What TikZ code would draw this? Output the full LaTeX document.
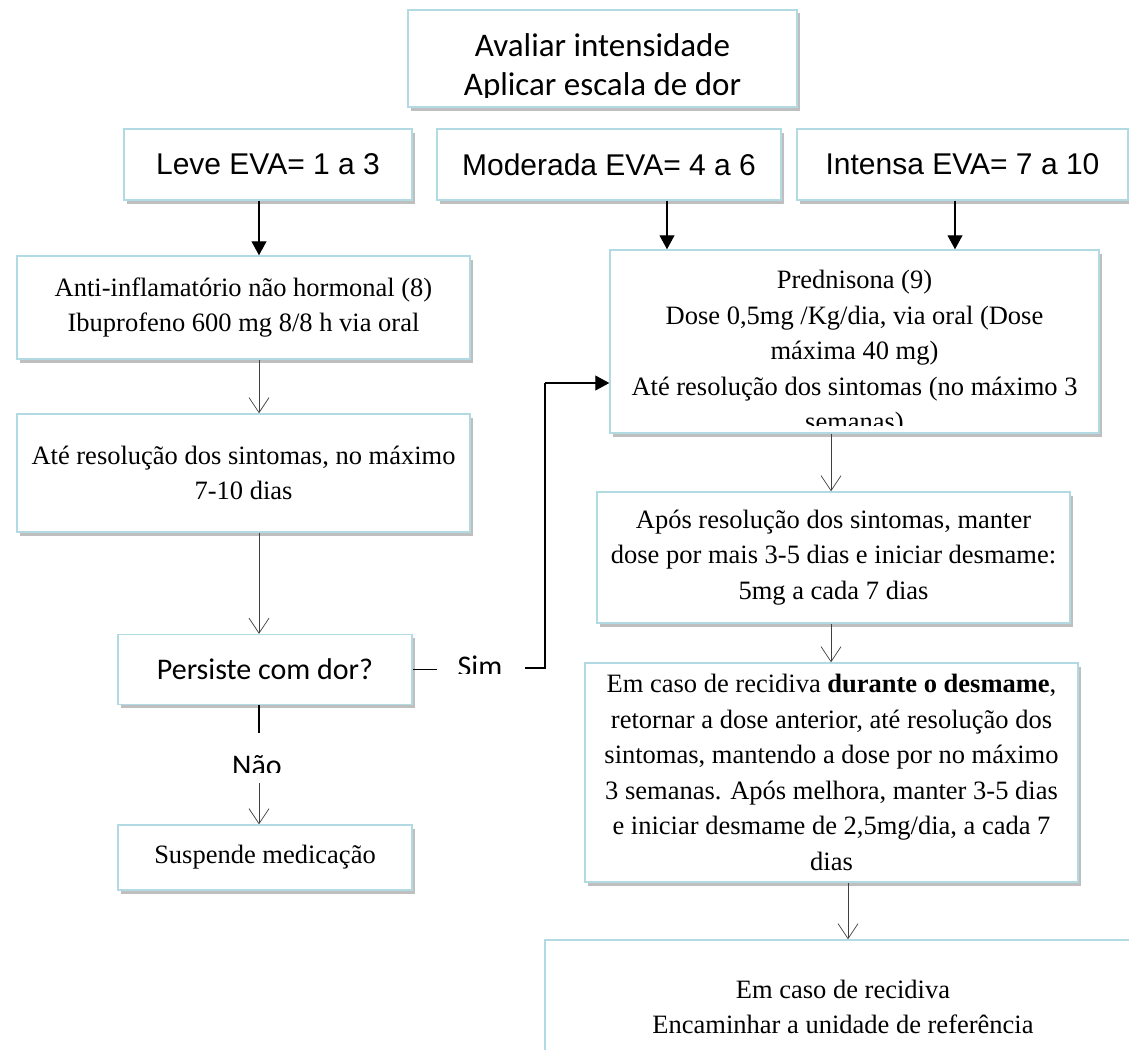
\documentclass[tikz,border=0pt]{standalone}
\usepackage{fontspec}
\setmainfont{Liberation Serif}
\newfontfamily\calibrifont{Carlito}
\newfontfamily\arialfont{Liberation Sans}
\usetikzlibrary{arrows.meta,shadows}

\definecolor{boxline}{RGB}{178,218,226}

\tikzset{
  box/.style={draw=boxline, line width=1.5pt, fill=white, inner sep=0pt, align=center,
    drop shadow={shadow xshift=2.5pt, shadow yshift=-3.5pt, fill=black, opacity=.25}},
  timestxt/.style={font=\fontsize{26.5}{35.5}\selectfont},
  arialtxt/.style={font=\arialfont\fontsize{30}{35}\selectfont},
  calibritxt/.style={font=\calibrifont\fontsize{30}{40}\selectfont},
  titletxt/.style={font=\calibrifont\fontsize{33}{39}\selectfont},
  solidtip/.style={line width=1.1pt, -{Triangle[length=14pt,width=15pt]}},
  opentip/.style={line width=0.7pt, black!75, -{Straight Barb[length=15pt,width=20pt]}},
  plainline/.style={line width=1.1pt},
}

\begin{document}
\begin{tikzpicture}[x=1pt,y=-1pt]
		%%%%% START %%%%%
		
		\fill[white] (0,0) rectangle (1129,1049);
		\useasboundingbox (0,0) rectangle (1129,1049);
		
		% columns of the connectors
		\coordinate (lcol) at (259,0);
		\coordinate (mcol) at (667,0);
		\coordinate (icol) at (955,0);
		\coordinate (rcol) at (831,0);
		\coordinate (fcol) at (848,0);
		
		% title
		\node[box, minimum width=389pt, minimum height=97pt] (top) at (602.5,58.5) {};
		\begin{scope}
			\clip (top.north west) rectangle ([yshift=10pt]top.south east);
			\node[titletxt, inner sep=0pt, align=center] (toptxt) at (602.5,67) {Avaliar intensidade\\Aplicar escala de dor};
		\end{scope}
		
		% intensity
		\node[box, arialtxt, minimum width=288pt, minimum height=71pt] (leve) at (268,164.5) {Leve EVA= 1 a 3};
		\node[box, arialtxt, minimum width=344pt, minimum height=71pt] (moder) at (609,164.5) {Moderada EVA= 4 a 6};
		\node[box, arialtxt, minimum width=331pt, minimum height=71pt] (intensa) at (962.5,164.5) {Intensa EVA= 7 a 10};
		
		% left branch
		\node[box, timestxt, minimum width=453pt, minimum height=103pt] (anti) at (243.5,307.5) {Anti-inflamatório não hormonal (8)\\Ibuprofeno 600 mg 8/8 h via oral};
		\node[box, timestxt, minimum width=453pt, minimum height=118pt] (ate) at (243.5,473) {Até resolução dos sintomas, no máximo\\7-10 dias};
		\node[box, calibritxt, minimum width=294pt, minimum height=70pt] (persiste) at (265,669.5) {Persiste com dor?};
		\node[box, timestxt, minimum width=294pt, minimum height=65pt] (suspende) at (265,857.5) {Suspende medicação};
		
		% right branch
		\node[box, minimum width=489pt, minimum height=183pt] (pred) at (854.5,341.5) {};
		\begin{scope}
			\clip (pred.north west) rectangle ([yshift=8pt]pred.south east);
			\node[timestxt, inner sep=0pt, align=center, anchor=north] (predtxt) at ([yshift=-21pt]pred.north) {Prednisona (9)\\Dose 0,5mg /Kg/dia, via oral (Dose\\máxima 40 mg)\\Até resolução dos sintomas (no máximo 3\\semanas)};
		\end{scope}
		\node[box, timestxt, minimum width=473pt, minimum height=131pt] (apos) at (833.5,557.5) {Após resolução dos sintomas, manter\\dose por mais 3-5 dias e iniciar desmame:\\5mg a cada 7 dias};
		\node[box, timestxt, minimum width=493pt, minimum height=219pt] (emcaso) at (831.5,772.5) {Em caso de recidiva \textbf{durante o desmame},\\retornar a dose anterior, até resolução dos\\sintomas, mantendo a dose por no máximo\\3 semanas. Após melhora, manter 3-5 dias\\e iniciar desmame de 2,5mg/dia, a cada 7\\dias};
		\node[box, timestxt, minimum width=596pt, minimum height=134pt] (final) at (843,1007) {Em caso de recidiva\\Encaminhar a unidade de referência};
		
		% Sim / Nao labels
		\begin{scope}
			\clip (440,640) rectangle (522,673);
			\node[calibritxt, inner sep=0pt, anchor=base] (sim) at (480,676) {Sim};
		\end{scope}
		\begin{scope}
			\clip (225,735) rectangle (295,772);
			\node[calibritxt, inner sep=0pt, anchor=base] (nao) at (257,775) {Não};
		\end{scope}
		\coordinate (simL) at (437,668);
		\coordinate (simR) at (525,668);
		\coordinate (simUp) at (545,383);
		\coordinate (naoT) at (259,733);
		\coordinate (naoB) at (259,783);
		
		% connectors
		\draw[solidtip] (leve.south -| lcol) -- (anti.north -| lcol);
		\draw[solidtip] (moder.south -| mcol) -- (pred.north -| mcol);
		\draw[solidtip] (intensa.south -| icol) -- (pred.north -| icol);
		\draw[opentip] (anti.south -| lcol) -- (ate.north -| lcol);
		\draw[opentip] (ate.south -| lcol) -- (persiste.north -| lcol);
		\draw[plainline] (persiste.south -| naoT) -- (naoT);
		\draw[opentip] (naoB) -- (suspende.north -| naoB);
		\draw[plainline] (persiste.east) -- (persiste.east -| simL);
		\draw[plainline] (simR) -| (simUp);
		\draw[solidtip] (simUp) -- (simUp -| pred.west);
		\draw[opentip] (pred.south -| rcol) -- (apos.north -| rcol);
		\draw[opentip] (apos.south -| rcol) -- (emcaso.north -| rcol);
		\draw[opentip] (emcaso.south -| fcol) -- (final.north -| fcol);
		
		%%%%% END %%%%%
\end{tikzpicture}
\end{document}
